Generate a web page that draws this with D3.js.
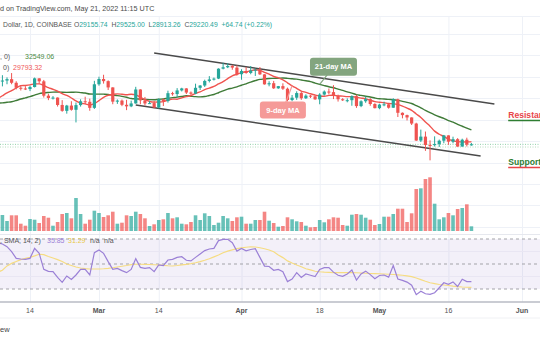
<!DOCTYPE html>
<html><head><meta charset="utf-8">
<script src="https://cdn.jsdelivr.net/npm/d3@7"></script>
<style>body{margin:0;background:#fff}svg{display:block;font-family:"Liberation Sans",Arial,sans-serif}</style>
</head><body><svg id="c" width="540" height="340"></svg>
<script>
// ---------- DATA ----------
const dates=["2022-02-07","2022-02-08","2022-02-09","2022-02-10","2022-02-11","2022-02-12","2022-02-13","2022-02-14","2022-02-15","2022-02-16","2022-02-17","2022-02-18","2022-02-19","2022-02-20","2022-02-21","2022-02-22","2022-02-23","2022-02-24","2022-02-25","2022-02-26","2022-02-27","2022-02-28",
"2022-03-01","2022-03-02","2022-03-03","2022-03-04","2022-03-05","2022-03-06","2022-03-07","2022-03-08","2022-03-09","2022-03-10","2022-03-11","2022-03-12","2022-03-13","2022-03-14","2022-03-15","2022-03-16","2022-03-17","2022-03-18","2022-03-19","2022-03-20","2022-03-21","2022-03-22","2022-03-23","2022-03-24","2022-03-25","2022-03-26","2022-03-27","2022-03-28","2022-03-29","2022-03-30","2022-03-31",
"2022-04-01","2022-04-02","2022-04-03","2022-04-04","2022-04-05","2022-04-06","2022-04-07","2022-04-08","2022-04-09","2022-04-10","2022-04-11","2022-04-12","2022-04-13","2022-04-14","2022-04-15","2022-04-16","2022-04-17","2022-04-18","2022-04-19","2022-04-20","2022-04-21","2022-04-22","2022-04-23","2022-04-24","2022-04-25","2022-04-26","2022-04-27","2022-04-28","2022-04-29","2022-04-30",
"2022-05-01","2022-05-02","2022-05-03","2022-05-04","2022-05-05","2022-05-06","2022-05-07","2022-05-08","2022-05-09","2022-05-10","2022-05-11","2022-05-12","2022-05-13","2022-05-14","2022-05-15","2022-05-16","2022-05-17","2022-05-18","2022-05-19","2022-05-20","2022-05-21"];
const open=[42410,43840,44060,44380,43540,42380,42210,42080,42550,44570,43880,40540,40000,40100,38380,37010,38240,37260,38350,39240,39120,37710,
43190,44420,43920,42460,39150,39400,38420,38060,38740,41980,39440,38730,38810,37790,39670,39290,41120,40920,41760,42230,41260,41000,42370,42900,43970,44320,44510,46820,47140,47440,47070,
45530,46290,45820,46410,46580,45500,43170,43440,42250,42760,42160,39530,40070,41150,39940,40550,40390,39680,40800,41500,41370,40480,39710,39470,39490,40430,38120,39240,39740,38600,
37640,38470,38530,37740,39700,36560,36020,35480,34060,30100,31020,29080,29030,29290,30070,31310,29840,30420,28700,30300,29156];
const high=[44500,45300,44800,45800,43900,43000,42750,42850,44750,44580,44200,40960,40450,40140,39500,38400,39250,38950,39700,40300,39850,44000,
44950,45400,44100,42500,39660,39650,39580,39380,42600,42040,40240,39320,39300,39890,39860,41700,41440,42300,42380,42290,41520,43330,43000,44260,45090,44760,46900,48190,48100,47700,47600,
46700,47200,47430,46890,47200,45510,43900,43970,42800,43420,42420,40700,41560,41500,40860,40700,40600,41120,41760,42200,42980,40780,39980,39920,40620,40780,39470,40380,39950,38790,
38660,39150,38630,39950,39840,36650,36130,35500,34250,32650,32200,30150,31080,30330,31410,31310,31000,30670,30540,30770,29525];
const low=[41650,42700,43200,43200,42000,41750,41850,41600,42450,43330,40100,39500,39650,38010,36800,36360,37050,34320,38000,38600,37030,37450,
42850,43350,41850,38550,38630,38100,37180,37870,38670,38550,38220,38670,37600,37570,38130,38930,40540,40170,41520,40930,40500,40880,41850,42570,43620,44080,44400,46660,46950,46570,45210,
44250,45630,45520,45120,45360,43120,42720,42110,42130,41880,39200,39250,39570,39570,39770,40000,39570,38540,40580,40850,39750,39170,39300,39000,38200,37700,37870,38880,38200,37580,
37390,38080,37520,37700,35580,35270,34780,33720,30030,29750,27700,25500,28720,28620,29480,29100,29480,28660,28700,28730,28913];
const close=[43840,44060,44380,43540,42380,42210,42080,42550,44570,43880,40540,40000,40100,38380,37010,38240,37260,38350,39240,39120,37710,43190,
44420,43920,42460,39150,39400,38420,38060,38740,41980,39440,38730,38810,37790,39670,39290,41120,40920,41760,42230,41260,41000,42370,42900,43970,44320,44510,46820,47140,47440,47070,45530,
46290,45820,46410,46580,45500,43170,43440,42250,42760,42160,39530,40070,41150,39940,40550,40390,39680,40800,41500,41370,40480,39710,39470,39490,40430,38120,39240,39740,38600,37640,
38470,38530,37740,39700,36560,36020,35480,34060,30100,31020,29080,29030,29290,30070,31310,29840,30420,28700,30300,29156,29220];
// closes before Feb 7 (Jan 17 .. Feb 6), used only to warm up the moving averages
const priorCloses=[42210,42380,41680,40690,36470,35080,36280,36680,36960,36830,37170,37720,38170,37920,38490,38740,36900,37330,41570,41410,42410];
const volume=[14000,16000,10000,15700,15700,7300,5300,12000,11300,8000,15000,13300,5300,9000,17000,18000,12700,33000,17000,7300,11300,20300,
18000,14000,15700,19300,7300,8300,15700,15000,19300,17000,12700,5000,6700,11000,11700,18000,12700,13700,7300,6700,9000,15700,11000,17700,15000,6000,8300,15000,12700,10000,13700,
14300,7300,7300,11000,11000,19300,10300,8000,4300,5000,13700,11700,9700,9000,5300,3700,4000,11000,8700,11700,13700,13300,6000,5300,16300,17000,16300,13300,11300,6000,
7000,14300,14300,17000,22300,22300,9000,17700,42000,42700,52000,53700,27300,11700,13700,18000,15700,22000,23000,26700,4700];
const rsi=[67,66,63.9,59.9,54.5,54,53.7,54.5,62.5,58.5,45.7,44.1,43.9,39.3,35.3,40.4,37.7,41.2,45.7,45.7,41.2,59.1,
61.2,58.5,51.9,45.7,46.5,44.7,43.1,45.7,54.3,47.3,46.5,47.1,43.9,49.2,48.7,53.2,53.7,55.3,55.8,53,52.5,55.3,58,60.7,62,62.5,68.7,69.7,69.7,67,60.3,
62.5,60.6,61.6,62.2,55.3,48.3,48,45,45.7,43.9,35.9,38,43.1,39.3,42,41,40,45.7,47.1,47.1,43.5,41,40.2,42,45.2,37.2,42,44.3,41.5,38.3,
40.8,41.2,39.5,48.8,38,36.9,35.5,33,25.5,28.2,26.2,25.7,27,31,35,33.7,35.7,32,37.8,35.9,35.85];
const rsiSma=[43.5,45,48.5,50.5,52,53.5,54.5,55.3,56.5,57.8,57.5,56,54.8,53.5,52,50,48.8,47.6,46.8,46.3,46,46,
46,46.2,46.5,47,47.6,48.2,48.8,49.5,49.8,49.8,49.7,49.6,49.4,49.2,48.9,48.6,48.4,48.8,49.3,49.7,50.3,51,51.9,53,54.2,55.7,57.2,59,60.3,61.3,62.3,
62.9,63.4,63.8,63.6,63,62.2,61.2,59.8,57.2,55.1,52.5,50.8,49.2,47.8,46.2,45.3,44.2,43.8,43.5,43.3,43.1,43.1,43.1,43.1,43.1,43,42.8,42.6,42.4,42.3,
42.2,42,41.8,41.6,41.3,41,40.5,39.9,38.8,37.5,36.2,35,34.3,33.6,33.2,32.8,32.3,31.9,31.6,31.4,31.29];
const timeTicks=["2022-02-14","2022-03-01","2022-03-14","2022-04-01","2022-04-18","2022-05-01","2022-05-16","2022-06-01"];
const timeTickLabels=["14","Mar","14","Apr","18","May","16","Jun"];
const priceGrid=[10000,15000,20000,25000,30000,35000,40000,45000,50000,55000];
const rsiLevels=[70,50,30];
const rsiGrid=[60,40];
const upperTrend=[["2022-03-13",50450],["2022-05-26",38600]];
const lowerTrend=[["2022-03-09",38370],["2022-05-23",26500]];
const priceLines=[29220,28600];
const headerLine1="d on TradingView.com, May 21, 2022 11:15 UTC";
const ohlcLabels=["O","H","L","C"];
const ohlcValues=["29155.74","29525.00","28913.26","29220.49"];
const ohlcChange="+64.74 (+0.22%)";
const symbolText="Dollar, 1D, COINBASE";
const maLegend=[[", 0)","32549.06"],["0)","29793.32"]];
const rsiLegend=[", SMA, 14, 2)","35.85","31.29","n/a","n/a"];

// ---------- SETUP ----------
const P=d3.utcParse("%Y-%m-%d");
const svg=d3.select("#c");
const UP="#26a69a",DN="#ef5350";
const x=d3.scaleUtc().domain([P("2022-02-14"),P("2022-06-01")]).range([30,522]);
const y=d3.scaleLinear().domain([25000,50000]).range([162.5,55]);
const yv=d3.scaleLinear().domain([0,60000]).range([231,171]);
const yr=d3.scaleLinear().domain([30,70]).range([289,239]);
const D=dates.map(P);

const defs=svg.append("defs");
defs.append("clipPath").attr("id","main").append("rect").attr("x",0).attr("y",16).attr("width",540).attr("height",218);
defs.append("clipPath").attr("id","rsi").append("rect").attr("x",0).attr("y",235).attr("width",540).attr("height",67);

// grid
const g=svg.append("g");
g.selectAll(".vg").data(timeTicks).join("line").attr("x1",d=>x(P(d))+0.5).attr("x2",d=>x(P(d))+0.5)
 .attr("y1",16).attr("y2",302).attr("stroke","#eef1f7");
g.append("g").attr("clip-path","url(#main)").selectAll("line").data(priceGrid).join("line")
 .attr("x1",0).attr("x2",540).attr("y1",d=>Math.round(y(d))+0.5).attr("y2",d=>Math.round(y(d))+0.5).attr("stroke","#eef1f7");
g.append("line").attr("x1",0).attr("x2",540).attr("y1",16.5).attr("y2",16.5).attr("stroke","#eef1f7");

// volume
const main=svg.append("g").attr("clip-path","url(#main)");
main.append("g").selectAll("rect").data(volume).join("rect")
 .attr("x",(d,i)=>x(D[i])-1.8).attr("width",3.6)
 .attr("y",d=>yv(d)).attr("height",d=>yv(0)-yv(d))
 .attr("fill",(d,i)=>close[i]>=open[i]?UP:DN).attr("fill-opacity",0.7);

// price lines
main.selectAll(".pl").data(priceLines).join("line").attr("x1",0).attr("x2",540)
 .attr("y1",d=>y(d)).attr("y2",d=>y(d)).attr("stroke",(d,i)=>i?"#b9dcc0":"#8fcfa8").attr("stroke-dasharray","1,1.5");

// moving averages
const allC=priorCloses.concat(close);
function sma(n){return close.map((c,i)=>{const j=i+priorCloses.length;return d3.mean(allC.slice(j-n+1,j+1));});}
const ma9=sma(9),ma21=sma(21);
const line=d3.line().x((d,i)=>x(D[i])).y(d=>y(d)).curve(d3.curveMonotoneX);
main.append("path").attr("d",line(ma21)).attr("fill","none").attr("stroke","#3f7b38").attr("stroke-width",1.4);
main.append("path").attr("d",line(ma9)).attr("fill","none").attr("stroke","#f0544f").attr("stroke-width",1.4);

// trend lines
const tl=d3.line().x(d=>x(P(d[0]))).y(d=>y(d[1]));
[upperTrend,lowerTrend].forEach(t=>main.append("path").attr("d",tl(t)).attr("stroke","#4a4a4a").attr("stroke-width",1.4).attr("fill","none"));

// candles
const cg=main.append("g").selectAll("g").data(close).join("g");
cg.append("line").attr("x1",(d,i)=>x(D[i])).attr("x2",(d,i)=>x(D[i]))
 .attr("y1",(d,i)=>y(high[i])).attr("y2",(d,i)=>y(low[i]))
 .attr("stroke",(d,i)=>d>=open[i]?UP:DN).attr("stroke-width",1);
cg.append("rect").attr("x",(d,i)=>x(D[i])-1.6).attr("width",3.2)
 .attr("y",(d,i)=>y(Math.max(d,open[i]))).attr("height",(d,i)=>Math.max(1,Math.abs(y(d)-y(open[i]))))
 .attr("fill",(d,i)=>d>=open[i]?UP:DN);

// MA annotation labels
function idx(s){return dates.indexOf(s);}
function tag(cx,cy,w,h,txt,fill,tx,ty){
  main.append("line").attr("x1",cx).attr("y1",cy).attr("x2",tx).attr("y2",ty).attr("stroke",fill).attr("stroke-width",1.2);
  main.append("rect").attr("x",cx-w/2).attr("y",cy-h/2).attr("width",w).attr("height",h).attr("rx",3).attr("fill",fill);
  main.append("text").attr("x",cx).attr("y",cy+2.6).attr("text-anchor","middle").attr("fill","#fff").attr("font-size",7.5).attr("font-weight","bold").text(txt);
}
const i21=idx("2022-04-18"),i9=idx("2022-04-12");
tag(x(P("2022-04-21")),y(47250),47,18,"21-day MA","#83a57f",x(D[i21]),y(ma21[i21]));
tag(x(P("2022-04-10")),y(37200),46,17,"9-day MA","#f59a98",x(D[i9]),y(ma9[i9]));

// Resistance / Support
const rs=svg.append("g");
[["Resistance",35350,"#e8454a","#2e7d32"],["Support",24420,"#2e7d32","#e8454a"]].forEach(r=>{
  const xx=x(P("2022-05-29")),yy=y(r[1]);
  rs.append("text").attr("x",xx).attr("y",yy).attr("fill",r[2]).attr("font-size",8.6).attr("font-weight","bold").text(r[0]);
  rs.append("line").attr("x1",xx).attr("x2",545).attr("y1",yy+2.5).attr("y2",yy+2.5).attr("stroke",r[3]).attr("stroke-width",1.5);
});

// RSI pane
svg.append("line").attr("x1",0).attr("x2",540).attr("y1",234.5).attr("y2",234.5).attr("stroke","#e6e8ee");
const rp=svg.append("g").attr("clip-path","url(#rsi)");
rp.append("rect").attr("x",0).attr("width",540).attr("y",yr(70)).attr("height",yr(30)-yr(70)).attr("fill","rgba(126,87,194,0.09)");
rp.selectAll(".rg").data(rsiGrid).join("line").attr("x1",0).attr("x2",540).attr("y1",d=>yr(d)).attr("y2",d=>yr(d)).attr("stroke","#e9e6f3");
rp.selectAll(".rl").data(rsiLevels).join("line").attr("x1",0).attr("x2",540).attr("y1",d=>yr(d)).attr("y2",d=>yr(d))
 .attr("stroke","#a3a3a8").attr("stroke-dasharray","3,3");
const rl=d3.line().x((d,i)=>x(D[i])).y(d=>yr(d));
rp.append("path").attr("d",rl(rsiSma)).attr("fill","none").attr("stroke","#f6dc82").attr("stroke-width",1.2);
rp.append("path").attr("d",rl(rsi)).attr("fill","none").attr("stroke","#9b80d6").attr("stroke-width",1.2);

// time axis
svg.append("line").attr("x1",0).attr("x2",540).attr("y1",302).attr("y2",302).attr("stroke","#b8bbc4").attr("stroke-width",1.5);
svg.append("line").attr("x1",0).attr("x2",540).attr("y1",318).attr("y2",318).attr("stroke","#f0f1f4");
svg.selectAll(".tt").data(timeTicks).join("text").attr("x",d=>x(P(d))).attr("y",313).attr("text-anchor","middle")
 .attr("font-size",7).attr("fill","#555").attr("font-weight",(d,i)=>isNaN(+timeTickLabels[i])?"bold":"normal").text((d,i)=>timeTickLabels[i]);

// texts
svg.append("text").attr("x",0).attr("y",11).attr("font-size",7.2).attr("fill","#4a4a4a").text(headerLine1);
svg.append("text").attr("x",3).attr("y",27).attr("font-size",6.8).attr("fill","#555").text(symbolText);
const h2=svg.append("text").attr("x",74).attr("y",27).attr("font-size",6.8).attr("xml:space","preserve");
ohlcLabels.forEach((l,i)=>{
  h2.append("tspan").attr("fill","#555").text((i?"  ":"")+l);
  h2.append("tspan").attr("fill","#26a69a").text(ohlcValues[i]);
});
h2.append("tspan").attr("fill","#26a69a").text("  "+ohlcChange);
const lg=[[0,25,59,"#4d8b45"],[3,13,70,"#f05a5a"]];
maLegend.forEach((m,i)=>{
  svg.append("text").attr("x",lg[i][0]).attr("y",lg[i][2]).attr("font-size",7).attr("fill","#555").text(m[0]);
  svg.append("text").attr("x",lg[i][1]).attr("y",lg[i][2]).attr("font-size",7).attr("fill",lg[i][3]).text(m[1]);
});
const rx=[0,47,68,90,104],rc=["#555","#9b80d6","#e8c94a","#555","#555"];
rsiLegend.forEach((t,i)=>svg.append("text").attr("x",rx[i]).attr("y",243).attr("font-size",7).attr("fill",rc[i]).text(t));
svg.append("text").attr("x",0).attr("y",332).attr("font-size",7.5).attr("fill","#444").text("ew");
</script></body></html>
